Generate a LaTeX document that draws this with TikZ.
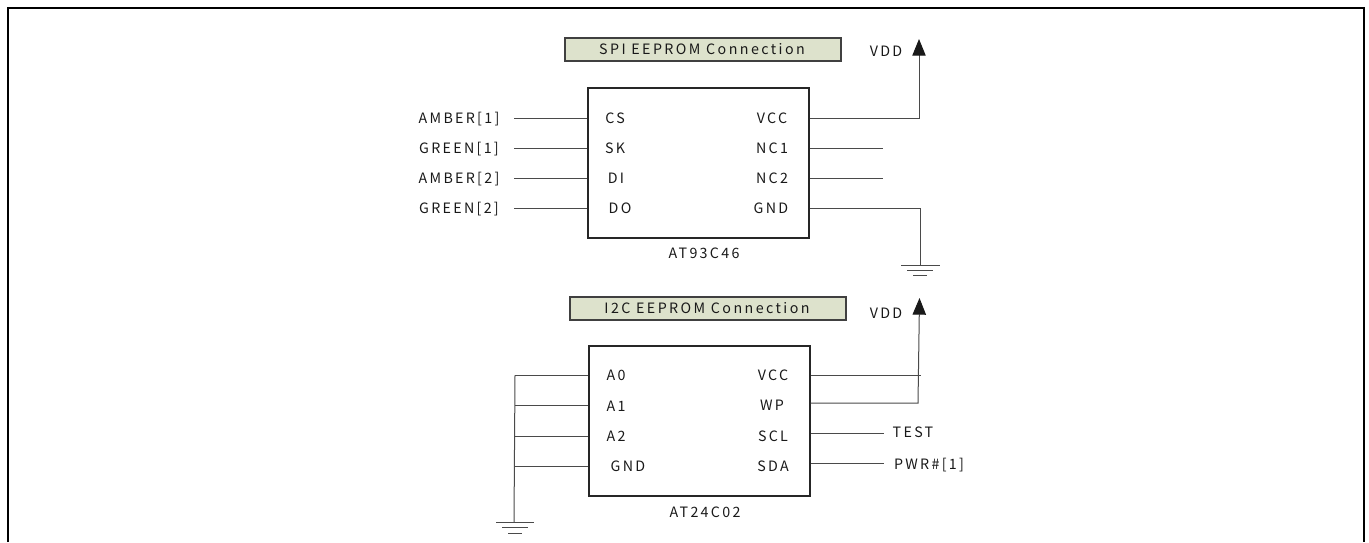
\documentclass[tikz,border=0pt]{standalone}
\usepackage{fontspec}
\setmainfont[LetterSpace=16]{Noto Sans CJK SC}
\usetikzlibrary{arrows.meta}
\definecolor{titlefill}{HTML}{DDE2CC}
\definecolor{wirecol}{HTML}{4A4A4A}
\tikzset{
  wire/.style={draw=wirecol,line width=0.75pt},
  vddwire/.style={wire,-{Triangle[length=12.5pt,width=10pt,color=black!90]}},
  chip/.style={draw=black!85,line width=0.8pt,minimum width=165.75pt,minimum height=112.5pt,inner sep=0pt},
  titlebox/.style={draw=black!75,line width=0.8pt,fill=titlefill,minimum width=207pt,minimum height=17.25pt,inner sep=0pt},
  txt/.style={inner sep=0pt,text height=7.84pt,text depth=0pt,font=\fontsize{10.7pt}{12pt}\selectfont,text=black!90},
  titletxt/.style={txt,font=\fontsize{10.7pt}{12pt}\selectfont\addfontfeature{LetterSpace=17}}
}
\begin{document}
\begin{tikzpicture}[x=0.75pt,y=-0.75pt]
  \useasboundingbox (0,0) rectangle (1369,542);

  % page frame, open at the bottom
  \coordinate (f1) at (8,542);
  \coordinate (f2) at (8,8);
  \coordinate (f3) at (1364,8);
  \coordinate (f4) at (1364,542);
  \draw[line width=1.5pt,miter limit=10] (f1) -- (f2) -- (f3) -- (f4);

  % SPI
  \node[titlebox] (spititle) at (703,49.5) {};
  \node[titletxt] (spitext) at (702,49) {SPI EEPROM Connection};
  \node[chip] (spi) at (698.5,163) {};
  \node[txt] (spiname) at (704,253) {AT93C46};
  \node[txt] (vdd1) at (886,51) {VDD};

  \node[txt] (amber1) at (459,118) {AMBER[1]};
  \node[txt] (green1) at (459,148) {GREEN[1]};
  \node[txt] (amber2) at (459,178) {AMBER[2]};
  \node[txt] (green2) at (459,208) {GREEN[2]};
  \node[txt] (cs) at (615,118) {CS};
  \node[txt] (sk) at (615,148) {SK};
  \node[txt] (di) at (616,178) {DI};
  \node[txt] (do) at (620,208) {DO};
  \node[txt] (vcc1) at (772,118) {VCC};
  \node[txt] (nc1) at (772,148) {NC1};
  \node[txt] (nc2) at (772,178) {NC2};
  \node[txt] (gnd1) at (771,208) {GND};

  \coordinate (l1) at (514,118);
  \coordinate (l2) at (514,148);
  \coordinate (l3) at (514,178);
  \coordinate (l4) at (514,208);
  \coordinate (r2) at (883,148);
  \coordinate (r3) at (883,178);
  \coordinate (vcorner1) at (919,118);
  \coordinate (vtip1) at (919,39);
  \coordinate (gcorner1) at (920,208);
  \coordinate (g1a) at (920,265);
  \coordinate (g1b) at (901,265);
  \coordinate (g1c) at (940,265);
  \coordinate (g1d) at (907,270);
  \coordinate (g1e) at (933,270);
  \coordinate (g1f) at (913,275);
  \coordinate (g1g) at (927,275);

  \draw[wire] (l1) -- (l1 -| spi.west);
  \draw[wire] (l2) -- (l2 -| spi.west);
  \draw[wire] (l3) -- (l3 -| spi.west);
  \draw[wire] (l4) -- (l4 -| spi.west);
  \draw[wire] (r2 -| spi.east) -- (r2);
  \draw[wire] (r3 -| spi.east) -- (r3);
  \draw[vddwire] (vcorner1 -| spi.east) -- (vcorner1) -- (vtip1);
  \draw[wire] (gcorner1 -| spi.east) -- (gcorner1) -- (g1a);
  \draw[wire] (g1b) -- (g1c);
  \draw[wire] (g1d) -- (g1e);
  \draw[wire] (g1f) -- (g1g);

  % I2C
  \node[titlebox] (i2ctitle) at (708,308.5) {};
  \node[titletxt] (i2ctext) at (707,308) {I2C EEPROM Connection};
  \node[chip] (i2c) at (699.5,421) {};
  \node[txt] (i2cname) at (705,512) {AT24C02};
  \node[txt] (vdd2) at (886,313) {VDD};

  \node[txt] (a0) at (616,375) {A0};
  \node[txt] (a1) at (616,406) {A1};
  \node[txt] (a2) at (616,436) {A2};
  \node[txt] (gnd2) at (628,466) {GND};
  \node[txt] (vcc2) at (773,375) {VCC};
  \node[txt] (wp) at (772,405) {WP};
  \node[txt] (scl) at (773,436) {SCL};
  \node[txt] (sda) at (773,466) {SDA};
  \node[txt] (test) at (913,432) {TEST};
  \node[txt] (pwr) at (929,464) {PWR\#[1]};

  \coordinate (b0) at (515,375);
  \coordinate (b1) at (515,405);
  \coordinate (b2) at (515,436);
  \coordinate (b3) at (514,466);
  \coordinate (g2a) at (514,522);
  \coordinate (g2b) at (496,522);
  \coordinate (g2c) at (534,522);
  \coordinate (g2d) at (502,527);
  \coordinate (g2e) at (528,527);
  \coordinate (g2f) at (508,533);
  \coordinate (g2g) at (522,533);
  \coordinate (v2a) at (921,375);
  \coordinate (v2b) at (918,403);
  \coordinate (vtip2) at (919.5,298);
  \coordinate (t1) at (884,433);
  \coordinate (t2) at (884,463);

  \draw[wire] (b0) -- (b0 -| i2c.west);
  \draw[wire] (b1) -- (b1 -| i2c.west);
  \draw[wire] (b2) -- (b2 -| i2c.west);
  \draw[wire] (b3) -- (b3 -| i2c.west);
  \draw[wire] (b0) -- (g2a);
  \draw[wire] (g2b) -- (g2c);
  \draw[wire] (g2d) -- (g2e);
  \draw[wire] (g2f) -- (g2g);
  \draw[wire] (v2a -| i2c.east) -- (v2a);
  \draw[vddwire] (v2b -| i2c.east) -- (v2b) -- (vtip2);
  \draw[wire] (t1 -| i2c.east) -- (t1);
  \draw[wire] (t2 -| i2c.east) -- (t2);
\end{tikzpicture}
\end{document}
